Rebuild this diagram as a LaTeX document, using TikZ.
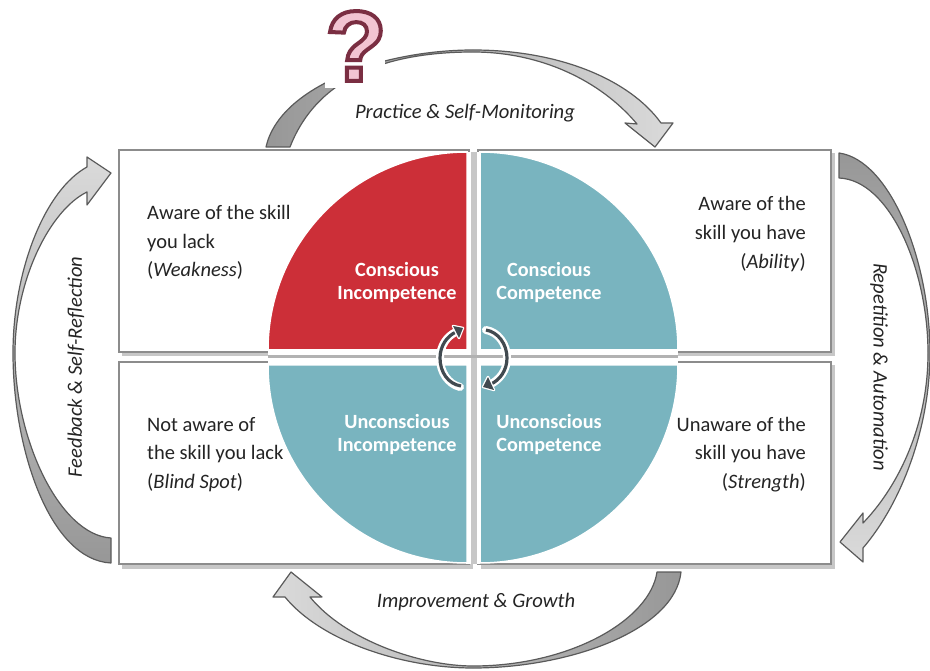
\documentclass[tikz,border=0pt]{standalone}
\usepackage{fontspec}
\setmainfont{Carlito}
\newfontfamily\qfont{Liberation Sans}
\definecolor{redq}{HTML}{CC2F38}
\definecolor{tealq}{HTML}{79B4BF}
\definecolor{inkq}{HTML}{242424}
\definecolor{edgeq}{HTML}{8C8C8C}
\definecolor{arrowedge}{HTML}{5A5A5A}
\definecolor{darkshade}{HTML}{979797}
\definecolor{lightshade}{HTML}{DADADA}
\definecolor{arcq}{HTML}{414A50}
\definecolor{pinkq}{HTML}{F2C4D2}
\definecolor{maroonq}{HTML}{7A2E42}
\tikzset{
  x=1pt,y=-1pt,
  quadbox/.style={draw=edgeq,line width=2.6pt,fill=white,rectangle,inner sep=0pt,outer sep=0pt,anchor=north west,minimum width=#1,minimum height=202pt},
  boxshadow/.style={fill=black!22,draw=none},
  wedge/.style={draw=white,line width=1.5pt},
  wedgelabel/.style={font=\fontsize{20.2}{23}\selectfont\bfseries,text=white,align=center,inner sep=0pt},
  sidetext/.style={font=\fontsize{20.5}{28.8}\selectfont,text=inkq,inner sep=0pt},
  flowlabel/.style={font=\fontsize{20.6}{24}\selectfont\itshape,text=inkq,inner sep=0pt},
  blockarrow/.style={draw=arrowedge,line width=1.2pt,line join=round},
  cycle arc/.style={draw=arcq,line width=3.2pt},
}
\begin{document}
\begin{tikzpicture}
\useasboundingbox (0,0) rectangle (930,671);
% box shadows
\fill[boxshadow] (122,153) rectangle (473,356);
\fill[boxshadow] (481,153) rectangle (835,356);
\fill[boxshadow] (122,365) rectangle (473,569);
\fill[boxshadow] (481,365) rectangle (835,569);
% boxes
\node[quadbox=350pt] (tl) at (119,150) {};
\node[quadbox=353pt] (tr) at (478,150) {};
\node[quadbox=350pt] (bl) at (119,362) {};
\node[quadbox=353pt] (br) at (478,362) {};
% side texts
\node[sidetext,anchor=west,align=left] (t1) at (147,242.5) {Aware of the skill\\you lack\\(\textit{Weakness})};
\node[sidetext,anchor=east,align=right] (t2) at (806,234) {Aware of the\\skill you have\\(\textit{Ability})};
\node[sidetext,anchor=west,align=left] (t3) at (147,454.5) {Not aware of\\the skill you lack\\(\textit{Blind Spot})};
\node[sidetext,anchor=east,align=right] (t4) at (806,454.5) {Unaware of the\\skill you have\\(\textit{Strength})};
% white ground and gap bands inside the circle
\fill[white] (466,152) rectangle (480,564);
\fill[white] (268,350) rectangle (678,365);
\fill[black!22] (471,152) rectangle (477,564);
\fill[black!30] (268,355) rectangle (678,358.5);
% quarter circle segments
\draw[wedge,fill=redq]  (467,350) -- (268,350) arc[start angle=180,end angle=90,x radius=199,y radius=-198] -- cycle;
\draw[wedge,fill=tealq] (480,350) -- (678,350) arc[start angle=0,end angle=90,x radius=198,y radius=-198] -- cycle;
\draw[wedge,fill=tealq] (467,365) -- (268,365) arc[start angle=180,end angle=270,x radius=199,y radius=-198] -- cycle;
\draw[wedge,fill=tealq] (480,365) -- (678,365) arc[start angle=0,end angle=-90,x radius=198,y radius=-198] -- cycle;
% wedge labels
\node[wedgelabel] (q1) at (397,283) {Conscious\\Incompetence};
\node[wedgelabel] (q2) at (549,283) {Conscious\\Competence};
\node[wedgelabel] (q3) at (397,434.5) {Unconscious\\Incompetence};
\node[wedgelabel] (q4) at (549,434.5) {Unconscious\\Competence};
% central cycle arrows
\draw[draw=white,line width=8pt,line cap=round] (460,387) .. controls (448,384) and (440,372) .. (440,358) .. controls (440,346) and (447,336) .. (456,332);
\draw[draw=white,line width=8pt,line cap=round] (486,330) .. controls (498,332) and (507,344) .. (507,358) .. controls (507,370) and (500,380) .. (489,385);
\draw[cycle arc] (461,386) .. controls (448,384) and (440,372) .. (440,358) .. controls (440,346) and (447,336) .. (456,332);
\draw[white,line width=2.5pt,line join=round,fill=arcq] (453,326) -- (463,328) -- (459,338) -- cycle;
\fill[arcq] (453,326) -- (463,328) -- (459,338) -- cycle;
\draw[cycle arc] (486,330) .. controls (498,332) and (507,344) .. (507,358) .. controls (507,370) and (500,380) .. (491,384);
\draw[white,line width=2.5pt,line join=round,fill=arcq] (494,390) -- (483,387) -- (488,377) -- cycle;
\fill[arcq] (494,390) -- (483,387) -- (488,377) -- cycle;
% block arrows
\draw[blockarrow,left color=darkshade,right color=lightshade]
  (266,147) .. controls (280,85) and (385,50) .. (473,50)
  .. controls (560,50) and (630,80) .. (661,123)
  -- (673,123) -- (655,147) -- (625,123) -- (637,124)
  .. controls (600,80) and (540,52) .. (473,52)
  .. controls (400,52) and (320,70) .. (290,147) -- cycle;
\draw[blockarrow,top color=darkshade,bottom color=lightshade]
  (839,153) .. controls (890,160) and (930,260) .. (930,353)
  .. controls (930,430) and (900,505) .. (863,548)
  -- (863,562) -- (840,542) -- (863,513) -- (863,523)
  .. controls (895,490) and (928,430) .. (928,353)
  .. controls (928,270) and (890,180) .. (839,178) -- cycle;
\draw[blockarrow,right color=darkshade,left color=lightshade]
  (681,572) .. controls (675,630) and (570,668) .. (473,668)
  .. controls (400,668) and (320,640) .. (285,597)
  -- (273,597) -- (291,572) -- (322,597) -- (310,597)
  .. controls (345,640) and (420,666) .. (473,666)
  .. controls (570,666) and (650,620) .. (657,572) -- cycle;
\draw[blockarrow,bottom color=darkshade,top color=lightshade]
  (111,563) .. controls (50,560) and (13,450) .. (13,353)
  .. controls (13,270) and (45,190) .. (87,167)
  -- (87,157) -- (111,173) -- (87,205) -- (87,192)
  .. controls (50,210) and (15,280) .. (15,353)
  .. controls (15,440) and (60,535) .. (111,538) -- cycle;
% flow labels
\node[flowlabel] (f1) at (465,113) {Practice \& Self-Monitoring};
\node[flowlabel] (f2) at (476,602) {Improvement \& Growth};
\node[flowlabel,rotate=90] (f3) at (76,367) {Feedback \& Self-Reflection};
\node[flowlabel,rotate=-90] (f4) at (879,367) {Repetition \& Automation};
% question mark tile
\fill[white] (325,6) rectangle (385,88);
\node[text=pinkq,font=\qfont\bfseries\fontsize{100}{100}\selectfont,inner sep=0pt] (qm) at (356,46)
  {\special{pdf:code 2 Tr 4 w 0.48 0.18 0.26 RG}?\special{pdf:code 0 Tr 1 w 0 0 0 RG}};
\end{tikzpicture}
\end{document}
